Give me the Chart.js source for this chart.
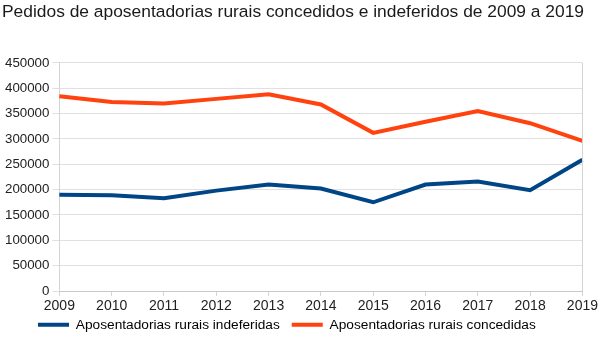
<!DOCTYPE html>
<html><head><meta charset="utf-8">
<script src="https://cdn.jsdelivr.net/npm/chart.js@4/dist/chart.umd.min.js"></script>
<style>html,body{margin:0;padding:0;background:#fff}canvas{display:block}</style>
</head><body>
<canvas id="c" width="600" height="347"></canvas>
<script>
const years = ['2009','2010','2011','2012','2013','2014','2015','2016','2017','2018','2019'];
const indeferidas = [190000, 189000, 183000, 198000, 210000, 202000, 175000, 210000, 216000, 199000, 259000];
const concedidas = [384000, 373000, 370000, 379000, 388000, 368000, 312000, 334000, 355000, 331000, 296000];
const titleText = 'Pedidos de aposentadorias rurais concedidos e indeferidos de 2009 a 2019';
const seriesNames = ['Aposentadorias rurais indeferidas', 'Aposentadorias rurais concedidas'];

const FONT = "'Liberation Sans', Arial, sans-serif";
Chart.defaults.font.family = FONT;
Chart.defaults.color = '#222';

new Chart(document.getElementById('c'), {
  type: 'line',
  data: {
    labels: years,
    datasets: [
      {label: seriesNames[0], data: indeferidas, borderColor: '#004586', backgroundColor: '#004586', borderWidth: 4, pointRadius: 0, tension: 0},
      {label: seriesNames[1], data: concedidas, borderColor: '#ff420e', backgroundColor: '#ff420e', borderWidth: 4, pointRadius: 0, tension: 0}
    ]
  },
  options: {
    responsive: false,
    animation: false,
    layout: {padding: {left: 2, right: 6, top: 0, bottom: -5.5}},
    plugins: {
      title: {display: true, text: titleText, align: 'start', font: {size: 17.4, weight: 'normal'}, color: '#1a1a1a', padding: {top: 2, bottom: 40}},
      legend: {
        position: 'bottom', align: 'start',
        labels: {
          boxWidth: 31, boxHeight: 4, font: {size: 13.7}, color: '#222', padding: 12,
          generateLabels: (chart) => chart.data.datasets.map((d, i) => ({
            text: d.label, fillStyle: d.borderColor, strokeStyle: d.borderColor, lineWidth: 0, datasetIndex: i, hidden: false
          }))
        }
      },
      tooltip: {enabled: false}
    },
    scales: {
      x: {
        offset: false,
        grid: {display: true, drawOnChartArea: false, color: '#d4d4d4', tickLength: 5},
        border: {color: '#c8c8c8'},
        ticks: {font: {size: 14}, color: '#222', maxRotation: 0, padding: 2}
      },
      y: {
        min: 0, max: 450000,
        ticks: {stepSize: 50000, font: {size: 13.3}, color: '#222', padding: 3, callback: (v) => String(v)},
        grid: {color: '#e0e0e0', tickLength: 7},
        border: {color: '#d4d4d4'}
      }
    }
  },
  plugins: [{
    id: 'placeLegend',
    beforeDraw(chart) {
      if (chart.legend) { chart.legend.left = 26; chart.legend.top = 306; }
    },
    afterDraw(chart) {
      const a = chart.chartArea, ctx = chart.ctx;
      ctx.save(); ctx.strokeStyle = '#d4d4d4'; ctx.lineWidth = 1;
      ctx.beginPath(); ctx.moveTo(Math.round(a.right) + 0.5, a.top); ctx.lineTo(Math.round(a.right) + 0.5, a.bottom); ctx.stroke();
      ctx.restore();
    }
  }]
});
</script>
</body></html>
